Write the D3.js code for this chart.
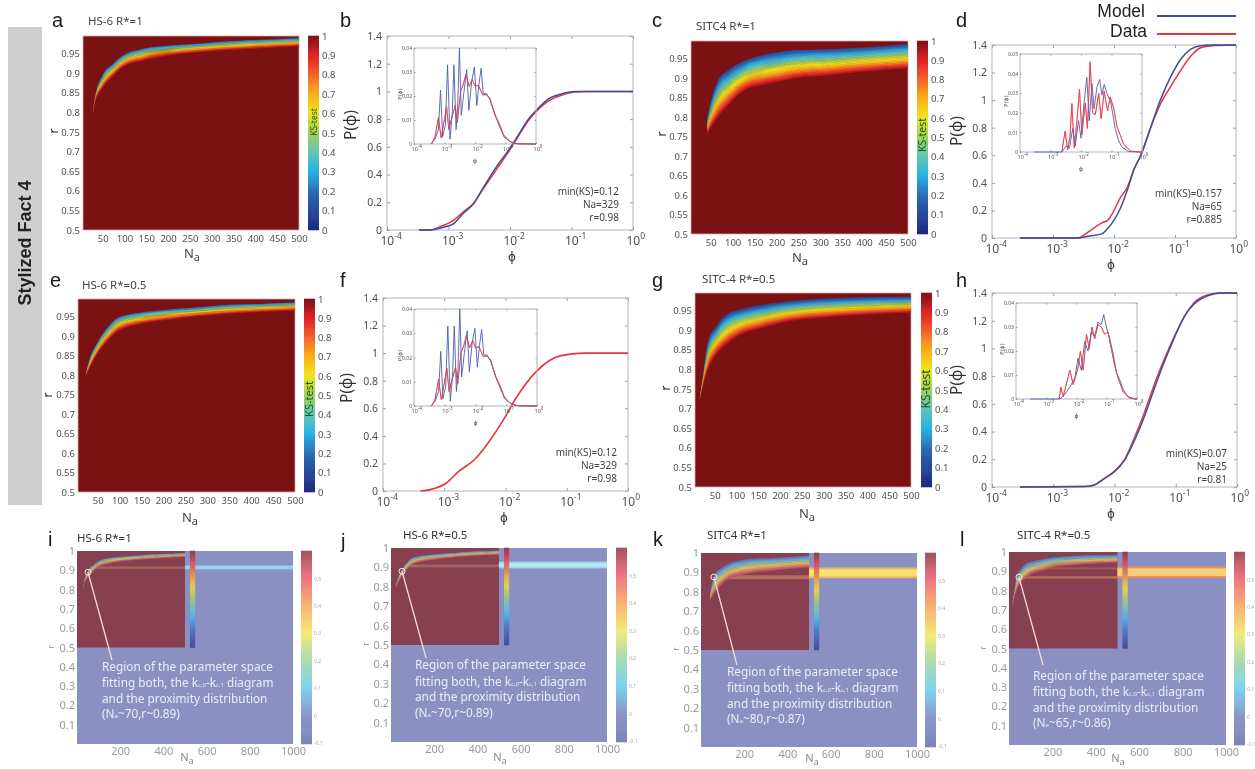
<!DOCTYPE html>
<html><head><meta charset="utf-8">
<script src="https://cdnjs.cloudflare.com/ajax/libs/d3/7.8.5/d3.min.js"></script>
<style>
html,body{margin:0;padding:0;background:#fff;overflow:hidden}
svg{display:block;filter:blur(.6px)}
text{font-family:"Noto Sans",sans-serif}
</style></head><body>
<svg id="c" width="1255" height="769"></svg>
<script>
// ---------- colour scale ticks ----------
const ksStops=[0,.1,.2,.3,.4,.5,.6,.7,.8,.9,.95,1];
const ksColors=["#1f2a7c","#25499d","#2a6fb7","#29b3e6","#62c5b4","#a6cf4f","#f1e419","#fbae1a","#f2612a","#e01f26","#a8181c","#7a1214"];
const outerStops=[0,.14,.29,.43,.57,.71,.86,1];
const outerColors=["#7f83b8","#8a96c8","#80d2f0","#a9dcb0","#f3ea78","#f8b472","#ee7480","#a2505e"];
const cbTicks=[0,.1,.2,.3,.4,.5,.6,.7,.8,.9,1];
const outerTicks=[-.1,0,.1,.2,.3,.4,.5];
const rTicks=[.5,.55,.6,.65,.7,.75,.8,.85,.9,.95];
const naTicks=[50,100,150,200,250,300,350,400,450,500];
const rTicksWide=[.1,.2,.3,.4,.5,.6,.7,.8,.9,1];
const naTicksWide=[200,400,600,800,1000];
const pTicks=[0,.2,.4,.6,.8,1,1.2,1.4];
const expTicks=[-4,-3,-2,-1,0];

// ---------- KS band edges ----------
const aNa=[27,32,50,75,96,145,200,275,350,427,500];
const aTop=[.795,.835,.895,.925,.945,.963,.97,.976,.982,.986,.989];
const aBot=[.795,.825,.862,.894,.915,.933,.945,.954,.96,.965,.969];
const eNa=[22,30,50,75,96,145,200,275,350,427,500];
const eTop=[.798,.835,.885,.925,.947,.96,.967,.973,.98,.983,.986];
const eBot=[.798,.815,.855,.89,.912,.93,.94,.95,.957,.962,.965];
const cNa=[42,52,67,90,128,165,204,240,318,392,500];
const cTop=[.796,.847,.895,.92,.945,.958,.966,.971,.974,.978,.987];
const cBot=[.757,.775,.8,.83,.869,.882,.89,.899,.907,.916,.925];
const gNa=[15,23,35,54,73,112,150,228,305,382,500];
const gTop=[.72,.784,.873,.911,.937,.954,.963,.975,.981,.984,.986];
const gBot=[.72,.758,.8,.839,.86,.89,.903,.924,.933,.939,.945];

// ---------- cumulative curves: log10(phi), P ----------
const bExp=[-3.48,-3.3,-3.13,-2.92,-2.75,-2.6,-2.43,-2.2,-2,-1.9,-1.7,-1.56,-1.38,-1.18,-.95,-.75,-.5,0];
const bData=[0,0,.025,.07,.135,.19,.3,.45,.58,.65,.79,.86,.93,.97,.995,1,1,1];
const bModel=[0,0,.015,.045,.125,.185,.31,.47,.59,.66,.8,.87,.945,.98,1,1,1,1];
const fExp=[-3.39,-3.23,-2.96,-2.77,-2.5,-2.25,-2.03,-1.82,-1.49,-1.11,-.73,0];
const fData=[0,.01,.06,.14,.23,.37,.52,.68,.87,.98,1,1];
const dExp=[-3.54,-2.6,-2.4,-2.2,-2.1,-2,-1.9,-1.78,-1.67,-1.56,-1.4,-1.24,-1.07,-.9,-.74,-.58,-.4,0];
const dModel=[0,0,.015,.03,.07,.13,.21,.35,.5,.6,.8,1,1.17,1.3,1.37,1.395,1.4,1.4];
const dData=[0,0,.05,.11,.13,.2,.29,.37,.5,.6,.8,.97,1.1,1.22,1.32,1.38,1.395,1.4];
const hExp=[-3.54,-2.5,-2.33,-2.17,-2,-1.84,-1.68,-1.51,-1.35,-1.19,-1.02,-.86,-.7,-.48,-.26,0];
const hModel=[0,.003,.015,.06,.11,.19,.33,.51,.71,.9,1.08,1.23,1.32,1.38,1.4,1.4];
const hData=[0,.003,.015,.06,.115,.195,.35,.54,.74,.92,1.09,1.23,1.33,1.385,1.4,1.4];

// ---------- inset histograms: log10(phi), density ----------
const bInsetModelExp=[-3.45,-3.31,-3.2,-3.13,-3.06,-2.97,-2.9,-2.82,-2.75,-2.69,-2.62,-2.57,-2.51,-2.45,-2.36,-2.27,-2.2,-2.11,-2.02,-1.94,-1.87,-1.8,-1.73,-1.62,-1.51,-1.34,-1.2,-1.07,-.9,-.74,-.47,0];
const bInsetModel=[0,.002,.006,.0225,.003,.008,.033,.002,.012,.033,.006,.015,.04,.012,.022,.031,.014,.026,.032,.016,.025,.0315,.021,.021,.0185,.012,.0085,.004,.0015,.0003,0,0];
const bInsetDataExp=[-3.42,-3.31,-3.2,-3.11,-3.02,-2.93,-2.86,-2.76,-2.65,-2.58,-2.47,-2.38,-2.3,-2.19,-2.09,-2,-1.89,-1.75,-1.62,-1.51,-1.34,-1.2,-1.05,-.85,-.63,0];
const bInsetData=[0,.003,.011,.0025,.009,.0155,.006,.011,.016,.009,.022,.025,.029,.024,.027,.024,.0245,.0205,.0205,.019,.012,.0075,.003,.001,.0001,0];
const dInsetModelExp=[-3.54,-2.63,-2.49,-2.38,-2.27,-2.19,-2.08,-2,-1.9,-1.81,-1.73,-1.64,-1.57,-1.48,-1.39,-1.31,-1.24,-1.15,-1.02,-.88,-.77,-.66,-.44,0];
const dInsetModel=[0,0,.003,.002,.012,.003,.016,.007,.025,.038,.016,.035,.022,.033,.037,.029,.0345,.03,.025,.012,.006,.0025,.0002,0];
const dInsetDataExp=[-2.63,-2.52,-2.44,-2.36,-2.3,-2.22,-2.14,-2.05,-1.97,-1.86,-1.79,-1.7,-1.62,-1.53,-1.42,-1.34,-1.24,-1.13,-1.04,-.93,-.82,-.71,-.6,-.38,0];
const dInsetData=[0,.0107,.001,.008,.0247,.002,.015,.032,.009,.025,.012,.046,.02,.019,.03,.017,.031,.021,.028,.0225,.013,.0085,.004,.0004,0];
const hInsetModelExp=[-3.54,-2.55,-2.38,-2.22,-2.05,-1.95,-1.84,-1.73,-1.62,-1.51,-1.4,-1.29,-1.18,-1.1,-1.01,-.9,-.79,-.68,-.57,-.46,-.3,-.07,0];
const hInsetModel=[0,0,.002,.005,.009,.017,.012,.024,.02,.028,.026,.032,.031,.0352,.03,.025,.019,.011,.008,.004,.001,0,0];
const hInsetDataExp=[-2.57,-2.52,-2.44,-2.22,-2.11,-1.95,-1.87,-1.78,-1.67,-1.58,-1.49,-1.4,-1.29,-1.18,-1.07,-.96,-.85,-.74,-.63,-.46,-.24,-.02];
const hInsetData=[0,.005,.001,.012,.006,.013,.02,.012,.027,.021,.03,.025,.031,.03,.027,.028,.021,.014,.009,.003,.0004,0];

// ---------- texts ----------
const annLines=["Region of the parameter space","the diagram","and the proximity distribution"];
const BLUE="#3b4f9e",RED="#e8333f";

const svg=d3.select("#c");
const cmap=d3.scaleLinear().domain(ksStops).range(ksColors);
const outerMap=d3.scaleLinear().domain(outerStops).range(outerColors);
const wash=c=>d3.interpolateRgb(c,"#a8a8dc")(.3);
const washBand=c=>d3.interpolateRgb(c,"#b4b4dc")(.38);
const G="#4f4f4f";
const ARIAL="'Liberation Sans',sans-serif";
function txt(g,x,y,s,o={}){return g.append("text").attr("x",x).attr("y",y).text(s)
  .attr("font-size",o.size||10).attr("fill",o.fill||G).attr("text-anchor",o.anchor||"start")
  .attr("font-weight",o.weight||null).attr("font-family",o.family||null)
  .attr("style",o.family?`font-family:${o.family}`:null)
  .attr("transform",o.rot?`rotate(${o.rot} ${x} ${y})`:null);}
function naLabel(g,x,y,size,fill){const t=g.append("text").attr("x",x).attr("y",y).attr("text-anchor","middle").attr("font-size",size).attr("fill",fill);
  t.append("tspan").text("N");t.append("tspan").attr("dy",3).attr("font-size",size*.85).text("a");}
function letter(x,y,s){txt(svg,x,y,s,{size:20,fill:"#1a1a1a",family:ARIAL});}
function cleanAxis(sel,size,fill){sel.select(".domain").remove();sel.selectAll("line").remove();
  sel.selectAll("text").attr("font-size",size).attr("fill",fill).attr("font-family",null);}

function bands(g,x,y,na,top,bot,colorFn,ks0){
  const n=40;
  const pts=na.map((v,i)=>({n:v,t:top[i],b:bot[i]}));
  d3.range(n).forEach(i=>{
    const t0=i/n,t1=Math.min((i+1.5)/n,1);
    const area=d3.area().x(d=>x(d.n)).y0(d=>y(d.t+(d.b-d.t)*t0)).y1(d=>y(d.t+(d.b-d.t)*t1)).curve(d3.curveMonotoneX);
    g.append("path").attr("d",area(pts)).attr("fill",colorFn(ks0+(.97-ks0)*t0));
  });
}

// ---------- heat maps a c e g ----------
function heat(p){
  const g=svg.append("g");
  const x=d3.scaleLinear().domain([5,500]).range([p.x0,p.x1]);
  const y=d3.scaleLinear().domain([.5,.995]).range([p.y1,p.y0]);
  g.append("rect").attr("x",p.x0).attr("y",p.y0).attr("width",p.x1-p.x0).attr("height",p.y1-p.y0).attr("fill","#7a1214").attr("stroke","#d9a9a9").attr("stroke-width",.8);
  bands(g,x,y,p.na,p.top,p.bot,cmap,p.ks0);
  g.append("g").attr("transform",`translate(${p.x0},0)`).call(d3.axisLeft(y).tickValues(rTicks).tickSize(0).tickPadding(3).tickFormat(d=>d)).call(s=>cleanAxis(s,9.5,G));
  g.append("g").attr("transform",`translate(0,${p.y1})`).call(d3.axisBottom(x).tickValues(naTicks).tickSize(0).tickPadding(5).tickFormat(d=>d)).call(s=>cleanAxis(s,9.5,G));
  // colour bar
  const cy=d3.scaleLinear().domain([0,1]).range([p.y1,p.y0]);
  d3.range(0,1,.01).forEach(v=>g.append("rect").attr("x",p.cb).attr("y",cy(v+.01)-.3).attr("width",11).attr("height",cy(v)-cy(v+.01)+.6).attr("fill",cmap(v)));
  g.append("g").attr("transform",`translate(${p.cb+11},0)`).call(d3.axisRight(cy).tickValues(cbTicks).tickSize(0).tickPadding(3).tickFormat(d=>d)).call(s=>cleanAxis(s,9.5,G));
  txt(g,p.cb+9,p.ksY,"KS-test",{size:p.ksS,fill:"#0f5a34",anchor:"middle",rot:-90});
  txt(g,p.rx,p.ry,"r",{size:12,fill:"#222",anchor:"middle",rot:-90});
  naLabel(g,p.nx,p.ny,13,"#444");
  txt(g,p.tx,p.ty,p.title,{size:11.5,fill:"#444"});
}
heat({x0:83,x1:299,y0:36,y1:230,cb:308,na:aNa,top:aTop,bot:aBot,ks0:.2,title:"HS-6 R*=1",tx:88,ty:25,rx:58,ry:131,nx:192,ny:258,ksY:122,ksS:8.5});
heat({x0:78,x1:295,y0:299,y1:492,cb:304,na:eNa,top:eTop,bot:eBot,ks0:.2,title:"HS-6 R*=0.5",tx:82,ty:289,rx:52,ry:395,nx:190,ny:522,ksY:399,ksS:11});
heat({x0:691,x1:908,y0:41,y1:234,cb:917,na:cNa,top:cTop,bot:cBot,ks0:.12,title:"SITC4 R*=1",tx:696,ty:30,rx:666,ry:134,nx:800,ny:262,ksY:135,ksS:10.5});
heat({x0:695,x1:911,y0:293,y1:487,cb:921,na:gNa,top:gTop,bot:gBot,ks0:.1,title:"SITC-4 R*=0.5",tx:702,ty:283,rx:670,ry:388,nx:807,ny:518,ksY:389,ksS:12});

// ---------- cumulative panels ----------
function expAxis(sel,size,supSize,dy,dx){
  sel.selectAll(".tick text").each(function(d){
    const t=d3.select(this).text("").attr("text-anchor","start").attr("x",dx).attr("font-size",size).attr("fill",G).attr("font-family",null);
    t.append("tspan").text("10");
    t.append("tspan").attr("dy",dy).attr("font-size",supSize).text(d);
  });
}
function frameAxes(g,x,y,X0,X1,Y0,Y1,len){
  [[d3.axisTop(x).tickValues(expTicks),0,Y0],[d3.axisRight(y).tickValues(y.domain()[1]>1?pTicks:y.ticks(4)),X1,0]].forEach(([a,tx,ty])=>{
    g.append("g").attr("transform",`translate(${tx},${ty})`).call(a.tickSize(-len).tickFormat(""))
     .call(s=>{s.select(".domain").remove();s.selectAll("line").attr("stroke","#9a9aa4");});
  });
  g.append("rect").attr("x",X0).attr("y",Y0).attr("width",X1-X0).attr("height",Y1-Y0).attr("fill","none").attr("stroke","#b4b4bc");
}
function curve(g,x,y,ex,v,color,w,cv){
  const pts=ex.map((e,i)=>[e,v[i]]);
  g.append("path").attr("fill","none").attr("stroke",color).attr("stroke-width",w).attr("stroke-linejoin","round")
   .attr("d",d3.line().x(d=>x(d[0])).y(d=>y(d[1])).curve(cv||d3.curveLinear)(pts));
}
function cdf(p){
  const g=svg.append("g");
  const x=d3.scaleLinear().domain([-4,0]).range([p.x0,p.x1]);
  const y=d3.scaleLinear().domain([0,1.4]).range([p.y1,p.y0]);
  frameAxes(g,x,y,p.x0,p.x1,p.y0,p.y1,3);
  g.append("g").attr("transform",`translate(${p.x0},0)`).call(d3.axisLeft(y).tickValues(pTicks).tickSize(-3).tickPadding(5).tickFormat(d=>d))
   .call(s=>{s.select(".domain").remove();s.selectAll("line").attr("stroke","#9a9aa4");s.selectAll("text").attr("font-size",10.5).attr("fill",G).attr("font-family",null);});
  g.append("g").attr("transform",`translate(0,${p.y1})`).call(d3.axisBottom(x).tickValues(expTicks).tickSize(-3).tickPadding(6).tickFormat(d=>d))
   .call(s=>{s.select(".domain").remove();s.selectAll("line").attr("stroke","#9a9aa4");expAxis(s,12,8.5,-6,-7);});
  const M=d3.curveMonotoneX;
  if(p.model){curve(g,x,y,p.exp,p.data,RED,1.5,M);curve(g,x,y,p.exp,p.model,BLUE,1.5,M);}
  else curve(g,x,y,p.exp,p.data,RED,1.6,M);
  // inset
  const ix=d3.scaleLinear().domain([-4,0]).range([p.ix0,p.ix1]);
  const iy=d3.scaleLinear().domain([0,p.imax]).range([p.iy1,p.iy0]);
  frameAxes(g,ix,iy,p.ix0,p.ix1,p.iy0,p.iy1,1.5);
  g.append("g").attr("transform",`translate(${p.ix0},0)`).call(d3.axisLeft(iy).ticks(p.imax*100).tickSize(-1.5).tickPadding(2).tickFormat(d=>d))
   .call(s=>{s.select(".domain").remove();s.selectAll("line").attr("stroke","#9a9aa4");s.selectAll("text").attr("font-size",5).attr("fill",G).attr("font-family",null);});
  g.append("g").attr("transform",`translate(0,${p.iy1})`).call(d3.axisBottom(ix).tickValues(expTicks).tickSize(-1.5).tickPadding(3).tickFormat(d=>d))
   .call(s=>{s.select(".domain").remove();s.selectAll("line").attr("stroke","#9a9aa4");expAxis(s,5.5,4.5,-2.5,-3);});
  curve(g,ix,iy,p.iDataExp,p.iData,"#e8474f",1);
  curve(g,ix,iy,p.iModelExp,p.iModel,"#4a5fb0",.9);
  curve(g,ix,iy,p.iDataExp,p.iData,"#e8474f",.5);
  txt(g,(p.ix0+p.ix1)/2,p.iy1+19,"ϕ",{size:6,anchor:"middle",family:"'DejaVu Sans'"});
  txt(g,p.ix0-12,(p.iy0+p.iy1)/2-2,"P(ϕ)",{size:5.5,anchor:"middle",rot:-90,family:"'DejaVu Sans'"});
  txt(g,p.px,p.py,"P(ϕ)",{size:15.5,anchor:"middle",rot:-90,fill:"#333"});
  txt(g,p.fx,p.fy,"ϕ",{size:12,anchor:"middle",fill:"#333",family:"'DejaVu Sans'"});
  p.stats.forEach((s,i)=>txt(g,p.sx,p.sy[i],s,{size:10,anchor:"end",fill:"#444"}));
}
cdf({x0:387,x1:633,y0:36,y1:230,exp:bExp,data:bData,model:bModel,ix0:414,ix1:536,iy0:48,iy1:144,imax:.04,
  iDataExp:bInsetDataExp,iData:bInsetData,iModelExp:bInsetModelExp,iModel:bInsetModel,
  px:356,py:125,fx:512,fy:261,stats:["min(KS)=0.12","Na=329","r=0.98"],sx:619,sy:[195,208,221]});
cdf({x0:383,x1:628,y0:298,y1:491,exp:fExp,data:fData,ix0:414,ix1:537,iy0:309,iy1:406,imax:.04,
  iDataExp:bInsetDataExp,iData:bInsetData,iModelExp:bInsetModelExp,iModel:bInsetModel,
  px:352,py:388,fx:504,fy:522,stats:["min(KS)=0.12","Na=329","r=0.98"],sx:617,sy:[456,469,482]});
cdf({x0:992,x1:1236,y0:45,y1:238,exp:dExp,data:dData,model:dModel,ix0:1020,ix1:1142,iy0:54,iy1:152,imax:.05,
  iDataExp:dInsetDataExp,iData:dInsetData,iModelExp:dInsetModelExp,iModel:dInsetModel,
  px:962,py:131,fx:1111,fy:269,stats:["min(KS)=0.157","Na=65","r=0.885"],sx:1222,sy:[197,210,223]});
cdf({x0:992,x1:1237,y0:293,y1:487,exp:hExp,data:hData,model:hModel,ix0:1016,ix1:1137,iy0:303,iy1:399,imax:.04,
  iDataExp:hInsetDataExp,iData:hInsetData,iModelExp:hInsetModelExp,iModel:hInsetModel,
  px:962,py:380,fx:1111,fy:518,stats:["min(KS)=0.07","Na=25","r=0.81"],sx:1227,sy:[457,470,483]});

// ---------- composite panels i j k l ----------
function comp(p){
  const g=svg.append("g");
  const x=d3.scaleLinear().domain([0,1000]).range([p.x0,p.x1]);
  const y=d3.scaleLinear().domain([0,1]).range([p.y1,p.y0]);
  g.append("rect").attr("x",p.x0).attr("y",p.y0).attr("width",p.x1-p.x0).attr("height",p.y1-p.y0).attr("fill","#8b90c3");
  g.append("rect").attr("x",x(0)).attr("y",y(1)).attr("width",x(500)-x(0)).attr("height",y(.5)-y(1)).attr("fill",wash("#7a1214"));
  p.band.forEach(b=>g.append("rect").attr("x",x(500)).attr("y",y(b[1])).attr("width",x(1000)-x(500)).attr("height",y(b[0])-y(b[1])).attr("fill",b[2]));
  p.inner.forEach(b=>g.append("rect").attr("x",x(60)).attr("y",y(b[1])).attr("width",x(500)-x(60)).attr("height",y(b[0])-y(b[1])).attr("fill",b[2]).attr("opacity",b[3]));
  bands(g,x,y,p.na,p.top,p.bot,v=>washBand(cmap(v)),p.ks0);
  // inner colour bar
  const cy=d3.scaleLinear().domain([0,1]).range([y(.5),y(1)]);
  d3.range(0,1,.02).forEach(v=>g.append("rect").attr("x",x(523)).attr("y",cy(v+.02)-.3).attr("width",x(547)-x(523)).attr("height",cy(v)-cy(v+.02)+.6).attr("fill",wash(cmap(v))));
  g.append("g").attr("transform",`translate(${p.x0},0)`).call(d3.axisLeft(y).tickValues(rTicksWide).tickSize(0).tickPadding(2).tickFormat(d=>d)).call(s=>cleanAxis(s,11,"#9a9a9a"));
  g.append("g").attr("transform",`translate(0,${p.y1})`).call(d3.axisBottom(x).tickValues(naTicksWide).tickSize(0).tickPadding(3).tickFormat(d=>d)).call(s=>cleanAxis(s,11,"#9a9a9a"));
  // outer colour bar
  const oy=d3.scaleLinear().domain([0,1]).range([p.y1,p.y0]);
  d3.range(0,1,.01).forEach(v=>g.append("rect").attr("x",p.cb).attr("y",oy(v+.01)-.3).attr("width",11).attr("height",oy(v)-oy(v+.01)+.6).attr("fill",outerMap(v)));
  const ot=d3.scaleLinear().domain([-.1,.6]).range([p.y1-1,p.y0]);
  g.append("g").attr("transform",`translate(${p.cb+11},0)`).call(d3.axisRight(ot).tickValues(outerTicks).tickSize(0).tickPadding(2).tickFormat(d=>d)).call(s=>cleanAxis(s,5,"#aaa"));
  // leader + note
  g.append("line").attr("x1",x(p.cn)).attr("y1",y(p.cr)).attr("x2",p.lx).attr("y2",p.ly).attr("stroke","#f4dcdc").attr("stroke-width",1.3);
  g.append("circle").attr("cx",x(p.cn)).attr("cy",y(p.cr)).attr("r",3).attr("fill","none").attr("stroke","#f0eee0").attr("stroke-width",1);
  const F="#ecedf6",s=11.8;
  txt(g,p.ax,p.ay[0],annLines[0],{size:s,fill:F});
  const t=g.append("text").attr("x",p.ax).attr("y",p.ay[1]).attr("font-size",s).attr("fill",F);
  t.append("tspan").text("fitting both, the k");t.append("tspan").attr("font-size",6).text("c,0");
  t.append("tspan").text("-k");t.append("tspan").attr("font-size",6).text("c,1");t.append("tspan").text(" diagram");
  txt(g,p.ax,p.ay[2],annLines[2],{size:s,fill:F});
  const u=g.append("text").attr("x",p.ax).attr("y",p.ay[3]).attr("font-size",s).attr("fill",F);
  u.append("tspan").text("(N");u.append("tspan").attr("font-size",6).text("a");u.append("tspan").text(p.note);
  txt(g,p.rx,p.ry,"r",{size:8,fill:"#888",anchor:"middle",rot:-90});
  naLabel(g,p.nx,p.ny,11,"#888");
  txt(g,p.tx,p.ty,p.title,{size:11.5,fill:"#333"});
}
comp({x0:77,x1:293,y0:551,y1:744,cb:301,na:aNa,top:aTop,bot:aBot,ks0:.2,band:[[.905,.925,"#92d3ee"]],inner:[[.908,.92,"#c9a07a",.4]],title:"HS-6 R*=1",tx:77,ty:542,
  cn:51,cr:.89,lx:112,ly:660,ax:102,ay:[671,687,703,718],note:"~70,r~0.89)",rx:54,ry:647,nx:187,ny:761});
comp({x0:391,x1:607,y0:548,y1:742,cb:616,na:eNa,top:eTop,bot:eBot,ks0:.2,band:[[.895,.93,"#99d8f0"],[.905,.92,"#c1e8f5"]],inner:[[.9,.915,"#c9a07a",.4]],title:"HS-6 R*=0.5",tx:403,ty:539,
  cn:51,cr:.88,lx:426,ly:658,ax:415,ay:[669,686,701,717],note:"~70,r~0.89)",rx:369,ry:644,nx:500,ny:761});
comp({x0:701,x1:917,y0:553,y1:747,cb:925,na:cNa,top:cTop,bot:cBot,ks0:.12,band:[[.87,.925,"#f3b566"],[.88,.915,"#f6e46e"]],inner:[[.865,.885,"#e8a060",.5]],title:"SITC4 R*=1",tx:707,ty:539,
  cn:60,cr:.876,lx:737,ly:665,ax:727,ay:[676,692,708,723],note:"~80,r~0.87)",rx:679,ry:649,nx:812,ny:762});
comp({x0:1009,x1:1226,y0:552,y1:745,cb:1234,na:gNa,top:gTop,bot:gBot,ks0:.1,band:[[.865,.925,"#ee8a5c"],[.875,.915,"#f6cf78"]],inner:[[.862,.875,"#e89a60",.5],[.91,.92,"#e07a60",.4]],title:"SITC-4 R*=0.5",tx:1017,ty:539,
  cn:46,cr:.87,lx:1043,ly:665,ax:1033,ay:[680,696,712,727],note:"~65,r~0.86)",rx:986,ry:648,nx:1118,ny:762});

// ---------- panel letters, side strip, legend ----------
[["a",52,27],["b",340,27],["c",652,27],["d",956,27],["e",50,287],["f",340,287],["g",652,287],["h",956,287],["i",48,546],["j",341,548],["k",653,546],["l",960,546]]
  .forEach(d=>letter(d[1],d[2],d[0]));
svg.insert("rect",":first-child").attr("x",8).attr("y",27).attr("width",34).attr("height",478).attr("fill","#cfcfcf");
txt(svg,31,243,"Stylized Fact 4",{size:18,weight:"bold",fill:"#222",anchor:"middle",rot:-90,family:ARIAL});
txt(svg,1145,17,"Model",{size:17.5,anchor:"end",fill:"#222",family:ARIAL});
txt(svg,1147,37,"Data",{size:17.5,anchor:"end",fill:"#222",family:ARIAL});
svg.append("line").attr("x1",1157).attr("x2",1236).attr("y1",16).attr("y2",16).attr("stroke",BLUE).attr("stroke-width",2);
svg.append("line").attr("x1",1157).attr("x2",1236).attr("y1",34).attr("y2",34).attr("stroke",RED).attr("stroke-width",2);
</script></body></html>
